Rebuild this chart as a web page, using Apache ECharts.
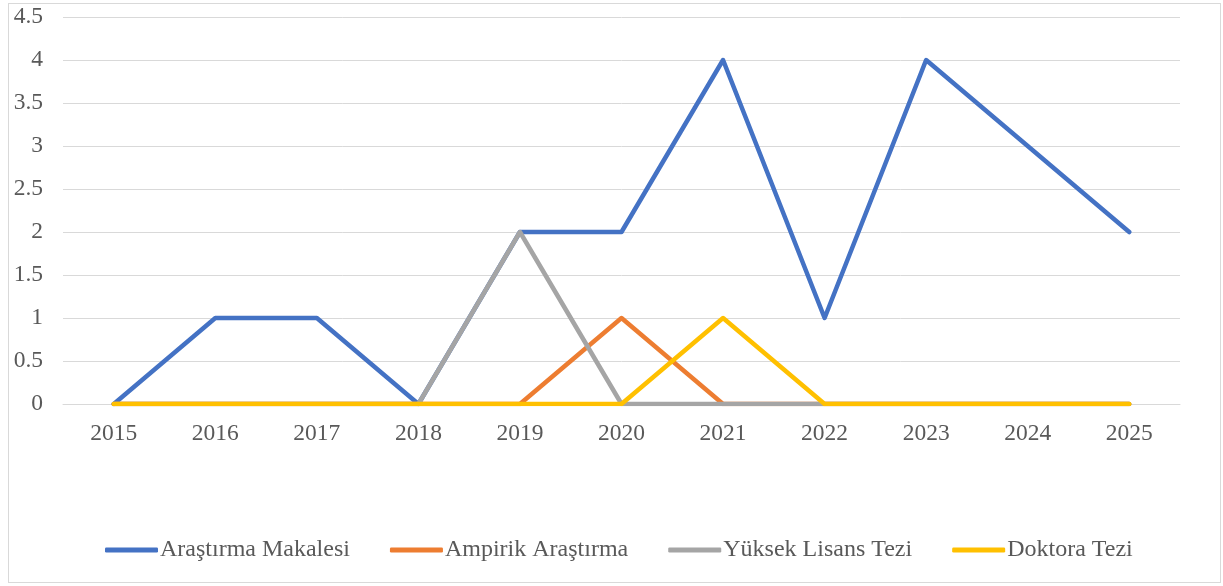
<!DOCTYPE html>
<html><head><meta charset="utf-8">
<script src="https://cdn.jsdelivr.net/npm/echarts@6/dist/echarts.min.js"></script>
<style>html,body{margin:0;padding:0;background:#fff}#c{width:1223px;height:586px}
#b{position:absolute;left:8px;top:3px;width:1213px;height:580px;border:1px solid #d9d9d9;box-sizing:border-box;pointer-events:none}</style>
</head><body><div id="c"></div><div id="b"></div>
<script>
const years = ['2015','2016','2017','2018','2019','2020','2021','2022','2023','2024','2025'];
const seriesNames = ['Araştırma Makalesi','Ampirik Araştırma','Yüksek Lisans Tezi','Doktora Tezi'];
const arastirma = [0,1,1,0,2,2,4,1,4,3,2];
const ampirik = [0,0,0,0,0,1,0,0,0,0,0];
const yuksekLisans = [0,0,0,0,2,0,0,0,0,0,0];
const doktora = [0,0,0,0,0,0,1,0,0,0,0];
const colors = ['#4472C4','#ED7D31','#A5A5A5','#FFC000'];
const dataSets = [arastirma, ampirik, yuksekLisans, doktora];
const font = 'Liberation Serif';
const chart = echarts.init(document.getElementById('c'));
chart.setOption({
  animation:false,
  textStyle:{fontFamily:font},
  grid:{left:63,right:43,top:17,bottom:182},
  legend:{top:533,left:100,itemWidth:53,itemHeight:5,itemGap:40,icon:'roundRect',
    textStyle:{fontFamily:font,fontSize:24,color:'#595959',padding:[0,0,0,-3]},
    data:seriesNames},
  xAxis:{type:'category',data:years,boundaryGap:true,
    axisLine:{lineStyle:{color:'#d9d9d9',width:1}},axisTick:{show:false},
    axisLabel:{fontFamily:font,fontSize:23.5,color:'#595959',margin:18}},
  yAxis:{type:'value',min:0,max:4.5,interval:0.5,
    axisLine:{show:false},axisTick:{show:false},
    splitLine:{lineStyle:{color:'#d9d9d9',width:1}},
    axisLabel:{fontFamily:font,fontSize:23.5,color:'#595959',margin:20}},
  series:dataSets.map((d,i)=>({name:seriesNames[i],type:'line',data:d,
    symbol:'none',lineStyle:{color:colors[i],width:4.5,cap:'round',join:'round'},
    itemStyle:{color:colors[i]},z:2+i}))
});
</script></body></html>
